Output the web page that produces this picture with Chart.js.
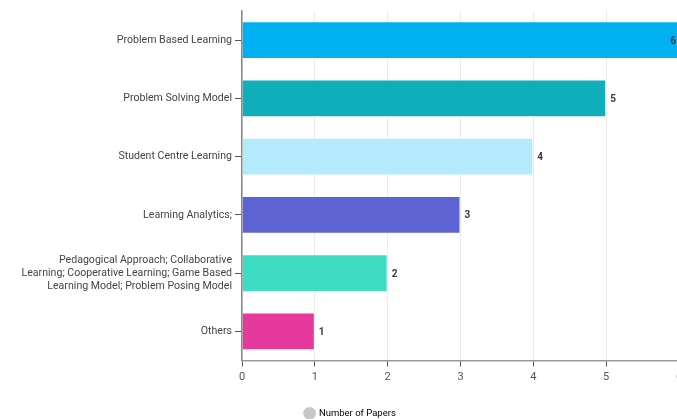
<!DOCTYPE html>
<html lang="en">
<head>
    <meta charset="UTF-8">
    <title>Number of Papers</title>
    <script src="https://cdn.jsdelivr.net/npm/chart.js"></script>
    <style>
        html, body { margin: 0; padding: 0; overflow: hidden; background: #fff; }
        #wrap { width: 700px; height: 419px; }
    </style>
</head>
<body>
    <div id="wrap"><canvas id="myChart" width="700" height="419"></canvas></div>

    <script>
        // categories and counts
        const categories = [
            'Problem Based Learning',
            'Problem Solving Model',
            'Student Centre Learning',
            'Learning Analytics;',
            ['Pedagogical Approach; Collaborative', 'Learning; Cooperative Learning; Game Based', 'Learning Model; Problem Posing Model'],
            'Others'
        ];
        const paperCounts = [6, 5, 4, 3, 2, 1];
        const barColors = ['#00b0f0', '#10aebb', '#b3ebfc', '#5d63d3', '#3ddcc3', '#e6399c'];
        const xTicks = [0, 1, 2, 3, 4, 5, 6];

        // numbers at the end of each bar
        const valueLabels = {
            id: 'valueLabels',
            afterDatasetsDraw(chart) {
                const c = chart.ctx;
                const meta = chart.getDatasetMeta(0);
                c.save();
                c.font = 'bold 10px Roboto';
                c.fillStyle = '#3a3a3a';
                c.textBaseline = 'middle';
                meta.data.forEach((bar, i) => {
                    const v = chart.data.datasets[0].data[i];
                    let x = bar.x + 4;
                    c.textAlign = 'left';
                    if (x + 6 > chart.width - 21) { x = 676; c.textAlign = 'right'; }
                    c.fillText(v, x, bar.y + 1);
                });
                c.restore();
            }
        };

        const ctx = document.getElementById('myChart').getContext('2d');
        const myChart = new Chart(ctx, {
            type: 'bar',
            data: {
                labels: categories,
                datasets: [{
                    label: 'Number of Papers',
                    data: paperCounts,
                    backgroundColor: barColors,
                    borderColor: 'rgba(255,255,255,0.35)',
                    borderWidth: 1,
                    categoryPercentage: 1,
                    barPercentage: 0.65
                }]
            },
            plugins: [valueLabels],
            options: {
                indexAxis: 'y',
                responsive: false,
                animation: false,
                layout: { padding: { top: 11, right: 21, left: 22, bottom: -9 } },
                scales: {
                    x: {
                        min: 0,
                        max: 6,
                        afterBuildTicks: (s) => { s.ticks = xTicks.map(v => ({ value: v })); },
                        afterFit: (s) => { s.height = 46; },
                        grid: { color: '#ebebeb', tickColor: '#555', tickLength: 6 },
                        border: { color: '#999', width: 1.5 },
                        ticks: { color: '#555', font: { family: 'Roboto', size: 11 }, padding: 4 }
                    },
                    y: {
                        afterFit: (s) => { s.width = 220; },
                        grid: { drawOnChartArea: false, offset: false, tickColor: '#555', tickLength: 7 },
                        border: { color: '#888', width: 1.5 },
                        ticks: { color: '#444', font: { family: 'Roboto', size: 10.6 }, padding: 3 }
                    }
                },
                plugins: {
                    legend: {
                        position: 'bottom',
                        labels: {
                            usePointStyle: true,
                            pointStyle: 'circle',
                            boxWidth: 9,
                            boxHeight: 9,
                            color: '#555',
                            font: { family: 'Roboto', size: 9.5 },
                            padding: 2,
                            generateLabels: () => [{
                                text: 'Number of Papers',
                                fillStyle: '#c8c8c8',
                                strokeStyle: '#c8c8c8',
                                lineWidth: 0,
                                pointStyle: 'circle'
                            }]
                        }
                    },
                    tooltip: { enabled: false }
                }
            }
        });
    </script>
</body>
</html>
